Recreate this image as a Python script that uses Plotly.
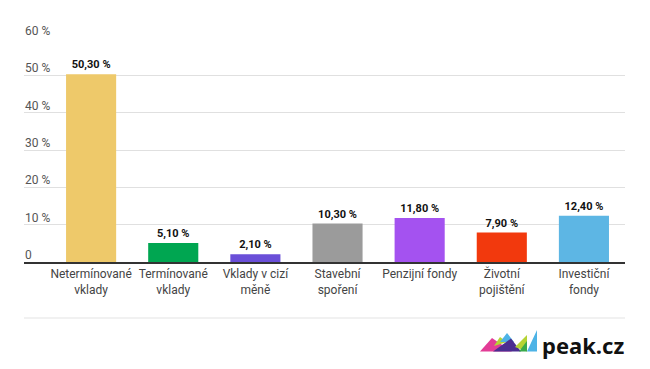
import plotly.graph_objects as go

categories = ["Netermínované<br>vklady", "Termínované<br>vklady", "Vklady v cizí<br>měně",
              "Stavební<br>spoření", "Penzijní fondy", "Životní<br>pojištění", "Investiční<br>fondy"]
values = [50.3, 5.1, 2.1, 10.3, 11.8, 7.9, 12.4]
colors = ["#EEC96A", "#00A651", "#6A4FD8", "#9B9B9B", "#A452F0", "#F2390D", "#5DB6E4"]
tick_vals = [0, 10, 20, 30, 40, 50, 60]
tick_text = ["0", "10 %", "20 %", "30 %", "40 %", "50 %", "60 %"]

# page body has an 8px margin; figure is sized so page fits 650x369
OFF = 8
W, H = 650 - 2 * OFF, 369 - 2 * OFF
L, T = 24 - OFF, 38 - OFF
R = W - (625 - OFF)
B = H - (262 - OFF)
pw, ph = W - L - R, H - T - B


def px(x):
    return (x - OFF - L) / pw


def py(y):
    return (H - B - (y - OFF)) / ph


fig = go.Figure()
fig.add_trace(go.Bar(
    x=list(range(len(categories))), y=values,
    marker=dict(color=colors, line=dict(width=0)),
    width=0.61,
    texttemplate="<b>%{y:.2f} %</b>", textposition="outside",
    textfont=dict(family="Roboto", size=11, color="#111"),
    cliponaxis=False, hoverinfo="skip",
))

# logo triangles (decorative), reference pixel coords
tris = [
    ("#E23C96", [(480, 351.5), (492, 338), (512, 351.5)]),
    ("#B5D334", [(494, 346), (500, 337), (507, 342)]),
    ("#4DB3E6", [(500, 342), (507, 333), (514, 342)]),
    ("#4B2E91", [(493, 351.5), (511, 338.5), (521, 351.5)]),
    ("#B5D334", [(515, 347), (527, 335), (527, 351.5)]),
    ("#3AAA4A", [(519, 351.5), (527, 341), (527, 351.5)]),
    ("#4DB3E6", [(527, 351.5), (537, 330), (537, 351.5)]),
]
shapes = []
for col, pts in tris:
    path = "M " + " L ".join(f"{px(x):.4f},{py(y):.4f}" for x, y in pts) + " Z"
    shapes.append(dict(type="path", xref="paper", yref="paper", path=path,
                       fillcolor=col, line=dict(width=0), layer="above"))
shapes.append(dict(type="line", xref="paper", yref="paper", x0=0, x1=1,
                   y0=py(318), y1=py(318), line=dict(color="#E3E3E3", width=1)))

annotations = [dict(x=px(626), y=py(345), xref="paper", yref="paper",
                    text="<b>peak.cz</b>", showarrow=False, xanchor="right", yanchor="middle",
                    font=dict(family="Noto Sans", size=22, color="#111"))]
for v, t in zip(tick_vals, tick_text):
    annotations.append(dict(x=0, y=v, xref="paper", yref="y", text=t, showarrow=False,
                            xanchor="left", yanchor="bottom", yshift=-2, xshift=-1,
                            font=dict(family="Roboto", size=12, color="#555")))

fig.update_layout(
    width=W, height=H,
    margin=dict(l=L, r=R, t=T, b=B, autoexpand=False),
    paper_bgcolor="white", plot_bgcolor="white",
    separators=", ",
    showlegend=False,
    font=dict(family="Roboto", size=12, color="#444"),
    shapes=shapes,
    annotations=annotations,
)
fig.update_xaxes(
    range=[-0.817, 6.5], tickvals=list(range(len(categories))), ticktext=categories,
    showgrid=False, showline=True, linecolor="#333", linewidth=2,
    tickfont=dict(size=12, color="#444"), ticks="", fixedrange=True, automargin=False,
)
fig.update_yaxes(
    range=[0, 60], tickvals=tick_vals, showticklabels=False,
    showgrid=True, gridcolor="#E0E0E0", gridwidth=1, zeroline=False,
    ticks="", fixedrange=True, automargin=False,
)
fig.write_html("out.html")
